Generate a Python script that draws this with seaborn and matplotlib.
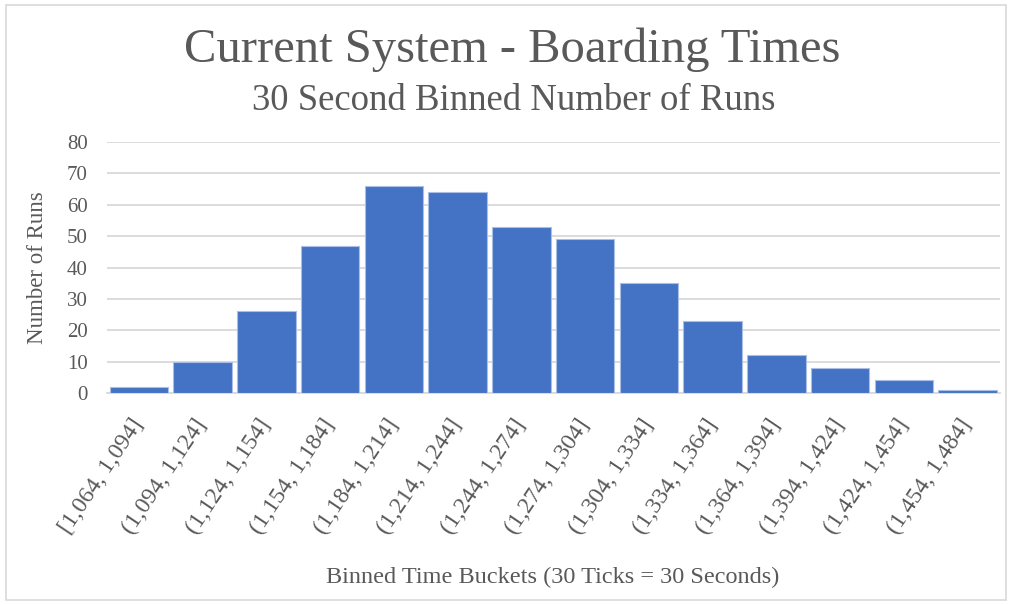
import matplotlib
matplotlib.use("Agg")
import matplotlib.pyplot as plt
from matplotlib.patches import Rectangle
import seaborn as sns
import pandas as pd

# Histogram of boarding times, 30-tick bins
bins = [
    "[1,064, 1,094]", "(1,094, 1,124]", "(1,124, 1,154]", "(1,154, 1,184]",
    "(1,184, 1,214]", "(1,214, 1,244]", "(1,244, 1,274]", "(1,274, 1,304]",
    "(1,304, 1,334]", "(1,334, 1,364]", "(1,364, 1,394]", "(1,394, 1,424]",
    "(1,424, 1,454]", "(1,454, 1,484]",
]
runs = [2, 10, 26, 47, 66, 64, 53, 49, 35, 23, 12, 8, 4, 1]
y_ticks = [0, 10, 20, 30, 40, 50, 60, 70, 80]

title = "Current System - Boarding Times"
subtitle = "30 Second Binned Number of Runs"
x_title = "Binned Time Buckets (30 Ticks = 30 Seconds)"
y_title = "Number of Runs"

sns.set_theme(style="white")
plt.rcParams["font.family"] = ["Liberation Serif", "DejaVu Serif"]

text_color = "#595959"
grid_color = "#D9D9D9"
bar_color = "#4472C4"

df = pd.DataFrame({"bucket": bins, "runs": runs})

fig = plt.figure(figsize=(10.12, 6.05), dpi=100)
ax = fig.add_axes([0.1057, 0.3504, 0.882, 0.4149])

sns.barplot(data=df, x="bucket", y="runs", color=bar_color, saturation=1,
            width=0.92, edgecolor="#A9BFE6", linewidth=0.8, ax=ax, zorder=3)

ax.set_xlim(-0.5, len(bins) - 0.5)
ax.set_ylim(0, 80)
ax.set_yticks(y_ticks)
ax.set_yticklabels([str(v) for v in y_ticks], fontsize=15, color=text_color)
ax.yaxis.grid(True, color=grid_color, linewidth=1.3, zorder=0)
ax.set_axisbelow(True)

for s in ["top", "left", "right"]:
    ax.spines[s].set_visible(False)
ax.spines["bottom"].set_color(grid_color)
ax.spines["bottom"].set_linewidth(1.3)
ax.tick_params(axis="both", length=0)
ax.tick_params(axis="y", pad=14)

ax.set_xticks(range(len(bins)))
ax.set_xticklabels(bins, rotation=56, ha="right", va="center",
                   rotation_mode="anchor", fontsize=17, color=text_color)
ax.tick_params(axis="x", pad=20)

ax.set_xlabel("")
ax.set_ylabel("")
fig.text(0.5465, 0.045, x_title, ha="center", va="center", fontsize=17.5, color=text_color)
fig.text(0.037, 0.557, y_title, ha="center", va="center", rotation=90,
         fontsize=16.5, color=text_color)

fig.text(0.506, 0.918, title, ha="center", va="center", fontsize=35, color=text_color)
fig.text(0.5075, 0.833, subtitle, ha="center", va="center", fontsize=26.5, color=text_color)

# Chart-area frame
fig.patches.append(Rectangle((0.006, 0.008), 0.988, 0.984, transform=fig.transFigure,
                             fill=False, edgecolor=grid_color, linewidth=1.2))

fig.savefig("out.png", dpi=100, facecolor="white")
